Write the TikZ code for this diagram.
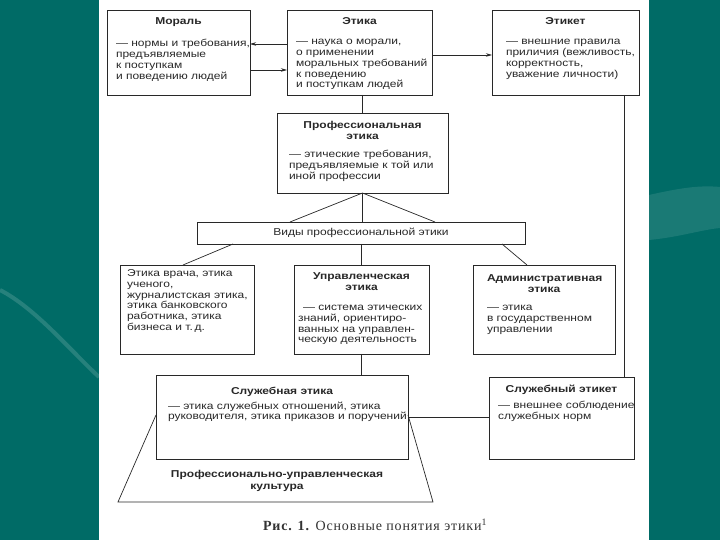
\documentclass[tikz,border=0pt]{standalone}
\usepackage{fontspec}
\setmainfont{Liberation Sans}[FakeStretch=1.2]
\newfontfamily\capfont{Liberation Serif}[LetterSpace=6]
\usetikzlibrary{positioning, arrows.meta, calc}
\definecolor{slideteal}{RGB}{0,107,102}
\definecolor{inkgray}{RGB}{40,40,40}
\newcommand{\blocktext}[3]{\parbox[c][#2][t]{#1}{#3}}
\newcommand{\blkhead}[1]{{\centering\bfseries #1\par}}
\newcommand{\blkbody}[1]{\begin{tabular}[t]{@{}l@{}}#1\end{tabular}}
\tikzset{
  blk/.style={rectangle, draw=inkgray, line width=0.8pt, anchor=north west, inner xsep=10pt, inner ysep=8pt, outer sep=0pt, fill=white},
  link/.style={draw=inkgray, line width=0.7pt},
  arrow/.style={link, -{Stealth[length=6pt, width=3.5pt]}}
}

\begin{document}
\begin{tikzpicture}[x=1pt, y=1pt, every node/.style={font=\fontsize{10}{10.8}\selectfont, text=inkgray}]
    \useasboundingbox (0,0) rectangle (720,540);
    % slide background
    \fill[slideteal] (0,0) rectangle (720,540);
    \draw[white, opacity=0.15, line width=4pt] (0,250) .. controls (35,232) and (70,190) .. (99,163);
    \fill[white, opacity=0.1] (649,345) .. controls (680,352) and (700,355) .. (720,353) -- (720,312) .. controls (700,310) and (680,303) .. (649,300) -- cycle;
    \fill[white] (99,0) rectangle (649,540);

    % top row
    \node[blk, inner xsep=9pt] (moral) at (107,530) {\blocktext{125pt}{69pt}{\blkhead{Мораль}\vspace{11pt}
      \blkbody{— нормы и требования,\\ предъявляемые\\ к поступкам\\ и поведению людей}}};
    \node[blk, inner xsep=9pt] (ethics) at (287,530) {\blocktext{127pt}{69pt}{\blkhead{Этика}\vspace{9pt}
      \blkbody{— наука о морали,\\ о применении\\ моральных требований\\ к поведению\\ и поступкам людей}}};
    \node[blk, inner xsep=14pt] (etiquette) at (492,530) {\blocktext{119pt}{69pt}{\blkhead{Этикет}\vspace{9pt}
      \blkbody{— внешние правила\\ приличия (вежливость,\\ корректность,\\ уважение личности)}}};

    \node[blk, inner xsep=12pt] (profeth) at (277,427) {\blocktext{147pt}{64pt}{\blkhead{Профессиональная\\этика}\vspace{8pt}
      \blkbody{— этические требования,\\ предъявляемые к той или\\ иной профессии}}};

    \node[blk, inner ysep=6pt] (kinds) at (197,318) {\blocktext{308pt}{10pt}{\centering Виды профессиональной этики}};

    % third row
    \node[blk, inner xsep=7pt, inner ysep=4pt] (examples) at (120,275) {\blocktext{120pt}{81pt}{\blkbody{Этика врача, этика\\ ученого,\\ журналистская этика,\\ этика банковского\\ работника, этика\\ бизнеса и т.\,д.}}};
    \node[blk, inner xsep=4pt] (manag) at (294,275) {\blocktext{127pt}{73pt}{\blkhead{Управленческая\\этика}\vspace{9pt}
      \blkbody{\hspace*{5pt}— система этических\\ знаний, ориентиро-\\ ванных на управлен-\\ ческую деятельность}}};
    \node[blk, inner xsep=14pt, inner ysep=10pt] (admin) at (473,275) {\blocktext{114pt}{69pt}{\blkhead{Административная\\этика}\vspace{7pt}
      \blkbody{— этика\\ в государственном\\ управлении}}};

    % bottom row
    \node[blk, inner xsep=12pt, inner ysep=12pt] (service) at (156,165) {\blocktext{228pt}{60pt}{\blkhead{Служебная этика}\vspace{4pt}
      \blkbody{— этика служебных отношений, этика\\ руководителя, этика приказов и поручений}}};
    \node[blk, inner xsep=9pt] (servetiq) at (489,163) {\blocktext{127pt}{66pt}{\blkhead{Служебный этикет}\vspace{5pt}
      \blkbody{— внешнее соблюдение\\ служебных норм}}};

    \coordinate (baseL) at (118,38);
    \coordinate (baseR) at (433,38);
    \node[font=\fontsize{10}{11.5}\selectfont\bfseries, align=center] (culture) at (277,59) {Профессионально-управленческая\\культура};

    \node[font=\capfont\fontsize{14}{16}\selectfont, text=black!80] (caption) at (375,15) {\textbf{Рис. 1.} Основные понятия этики\textsuperscript{1}};

    % connectors
    \draw[arrow] ([yshift=-34pt]ethics.north west) -- ([yshift=-34pt]moral.north east);
    \draw[arrow] ([yshift=-60pt]moral.north east) -- ([yshift=-60pt]ethics.north west);
    \draw[arrow] ([yshift=-45pt]ethics.north east) -- ([yshift=-45pt]etiquette.north west);
    \draw[link] (ethics.south -| profeth.north) -- (profeth.north);

    \draw[link] (profeth.south) -- (profeth.south |- kinds.north);
    \draw[link] (profeth.south) -- ([xshift=93pt]kinds.north west);
    \draw[link] (profeth.south) -- ([xshift=-90pt]kinds.north east);

    \draw[link] (manag.north |- kinds.south) -- (manag.north);
    \draw[link] ([xshift=36pt]kinds.south west) -- ([xshift=63pt]examples.north west);
    \draw[link] ([xshift=-23pt]kinds.south east) -- ([xshift=54pt]admin.north west);

    \draw[link] (manag.south) -- (manag.south |- service.north);
    \draw[link] ([xshift=-15pt]etiquette.south east) -- ([xshift=-10pt]servetiq.north east);
    \draw[link] ([yshift=-42pt]service.north east) -- ([yshift=-40pt]servetiq.north west);

    % culture base
    \draw[link] ([yshift=-40pt]service.north west) -- (baseL) -- (baseR) -- ([yshift=-40pt]service.north east);
\end{tikzpicture}
\end{document}
